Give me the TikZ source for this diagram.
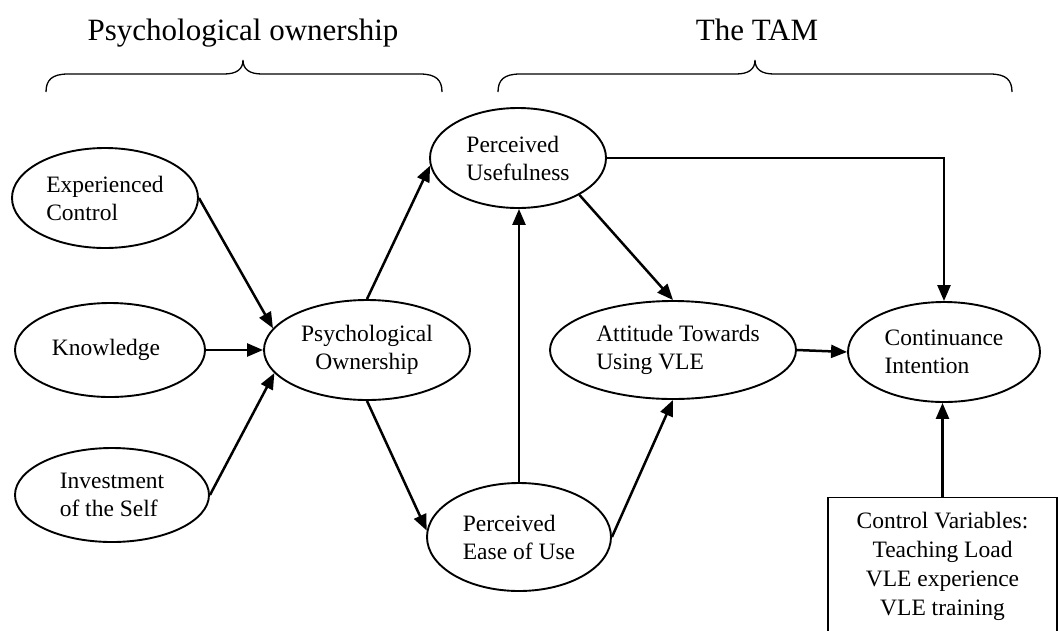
\documentclass[tikz,border=0pt]{standalone}
\usepackage{fontspec}
\setmainfont{Liberation Serif}
\usetikzlibrary{shapes.geometric,arrows.meta}

\tikzset{
  construct/.style={draw, ellipse, line width=1.9pt, inner sep=0pt, align=left,
    font=\fontsize{23.5}{28}\selectfont},
  link/.style={line width=2.5pt, -{Triangle[length=16pt,width=13pt]}},
  brace/.style={line width=1.3pt},
  heading/.style={font=\fontsize{31}{35}\selectfont, anchor=base},
  controlbox/.style={draw, line width=1.3pt, anchor=north, minimum width=229pt,
    inner xsep=0pt, inner ysep=15pt, align=center,
    font=\fontsize{23.5}{29}\selectfont}
}

\begin{document}
\begin{tikzpicture}[x=1pt, y=-1pt]
  \path[use as bounding box, clip] (0,0) rectangle (1058,630);

  % headings and their braces
  \node[heading] (hpo) at (243,40) {Psychological ownership};
  \node[heading] (htam) at (757,40) {The TAM};
  \draw[brace] (46,92) .. controls (46,80) and (52,74) .. (68,74) -- (224,74)
    .. controls (237,74) and (243,69) .. (243,60)
    .. controls (243,69) and (249,74) .. (262,74) -- (420,74)
    .. controls (436,74) and (442,80) .. (442,92);
  \draw[brace] (498,92) .. controls (498,80) and (504,74) .. (520,74) -- (736,74)
    .. controls (749,74) and (755,69) .. (755,60)
    .. controls (755,69) and (761,74) .. (774,74) -- (990,74)
    .. controls (1006,74) and (1012,80) .. (1012,92);

  % constructs
  \node[construct, minimum width=186pt, minimum height=100pt] (ec) at (105,198) {Experienced\\Control};
  \node[construct, minimum width=190pt, minimum height=94pt] (kn) at (110,350) {Knowledge\kern8pt};
  \node[construct, minimum width=194pt, minimum height=94pt] (inv) at (112,495) {Investment\\of the Self};
  \node[construct, minimum width=206pt, minimum height=100pt, align=center] (po) at (367,350) {Psychological\\Ownership};
  \node[construct, minimum width=176pt, minimum height=100pt] (pu) at (518,158) {Perceived\\Usefulness};
  \node[construct, minimum width=184pt, minimum height=108pt] (peou) at (519,537) {Perceived\\Ease of Use};
  \node[construct, minimum width=246pt, minimum height=98pt] (att) at (673,350) {\kern10pt Attitude Towards\\\kern10pt Using VLE};
  \node[construct, minimum width=192pt, minimum height=100pt] (ci) at (944,352) {Continuance\\Intention};

  \node[controlbox] (ctrl) at (942.5,497) {Control Variables:\\Teaching Load\\VLE experience\\VLE training};

  % paths
  \draw[link] (ec.east) -- (po.167);
  \draw[link] (kn.east) -- (po.west);
  \draw[link] (inv.east) -- (po.194);
  \draw[link] (po.north) -- (pu.185);
  \draw[link] (po.south) -- (peou.176);
  \draw[link] (peou.north) -- (pu.south -| peou.north);
  \draw[link] (pu.-31) -- (att.north);
  \draw[link] (peou.east) -- (att.south);
  \draw[link] (pu.east) -| (ci.north);
  \draw[link] (att.east) -- (ci.west);
  \draw[link] (ctrl.north) -- (ci.south -| ctrl.north);
\end{tikzpicture}
\end{document}
